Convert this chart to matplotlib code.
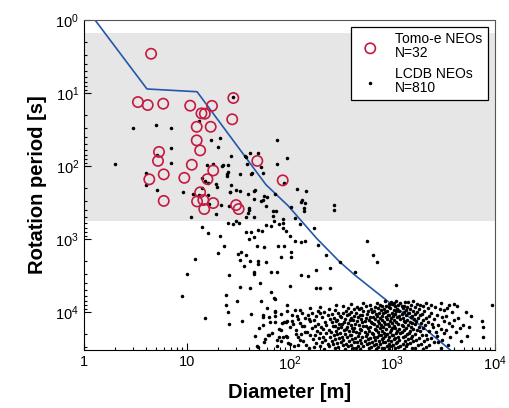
import numpy as np
import matplotlib
matplotlib.use("Agg")
import matplotlib.pyplot as plt
from matplotlib.ticker import FixedLocator, FixedFormatter, LogLocator, NullFormatter

plt.rcParams['font.family'] = ['Liberation Sans', 'DejaVu Sans']
plt.rcParams['mathtext.fontset'] = 'custom'
plt.rcParams['mathtext.rm'] = 'Liberation Sans'
plt.rcParams['mathtext.it'] = 'Liberation Sans:italic'
plt.rcParams['mathtext.bf'] = 'Liberation Sans:bold'

# Tomo-e NEOs: diameter [m], rotation period [s]
tomoe_d = [4.5, 3.35, 4.17, 5.9, 10.8, 17.6, 13.9, 15.0, 28.4, 27.7, 12.5, 17.1,
           12.5, 13.5, 5.37, 5.25, 11.2, 4.32, 5.97, 9.47, 18.1, 15.9, 48.6, 85.9,
           5.97, 13.5, 12.6, 14.8, 18.1, 30.2, 32.0, 14.5]
tomoe_p = [2.9, 13.3, 14.6, 14.0, 14.9, 15.0, 19.0, 19.2, 11.7, 22.9, 29.0, 29.0,
           44.5, 61.0, 64.0, 85.0, 96.0, 152.0, 130.0, 145.0, 115.0, 151.0, 85.0, 157.0,
           300.0, 229.0, 305.0, 388.0, 321.0, 342.0, 388.0, 292.0]

# spin limit curve
limit_d = [1.28, 4.1, 12.6, 59, 97, 184, 308, 431, 979, 2005, 3650, 4000]
limit_p = [1.0, 8.8, 9.6, 180, 350, 980, 2050, 3100, 7770, 16200, 32800, 37000]

# shaded period range [s]
band_p = (1.5, 570)

# LCDB NEOs, small/scattered bodies (log10 D, log10 P)
lcdb_sparse = [
    (0.48, 1.475), (0.70, 1.443), (0.847, 1.475), (0.847, 1.758), (0.707, 1.849),
    (0.305, 1.973), (0.847, 1.963), (0.60, 2.10), (0.60, 2.26), (0.707, 2.33),
    (1.122, 1.384), (1.233, 1.644), (1.324, 1.612), (1.304, 1.74), (1.434, 1.867),
    (1.57, 1.863), (1.616, 1.818), (1.69, 1.826), (1.20, 1.986), (1.258, 1.977),
    (1.35, 1.986), (1.404, 1.982), (1.583, 1.973), (1.453, 1.059), (1.148, 2.169),
    (1.395, 2.105), (1.395, 2.13), (1.518, 2.11), (1.622, 2.114), (1.151, 2.297),
    (1.21, 2.229), (0.96, 2.356), (1.42, 2.352), (1.479, 2.329), (1.518, 2.342),
    (1.664, 2.329), (1.29, 2.283), (1.116, 2.397), (1.21, 2.39),
    (1.875, 1.648), (1.972, 1.89), (1.878, 1.968), (1.574, 1.877), (1.726, 2.018),
    (1.745, 2.096), (1.632, 2.1), (1.40, 2.08), (1.347, 2.0), (1.95, 2.233),
    (1.434, 2.256), (1.178, 2.21), (1.285, 2.24),
    (2.076, 2.319), (2.157, 2.338), (2.125, 2.466), (1.86, 2.384), (1.777, 2.42),
    (1.745, 2.466), (2.115, 2.497), (2.154, 2.511), (2.138, 2.575), (2.138, 2.621),
    (2.43, 2.53), (2.43, 2.599), (2.01, 2.566), (2.056, 2.716),
    (1.42, 2.36), (1.657, 2.338), (1.593, 2.384), (1.754, 2.415), (1.723, 2.475),
    (1.657, 2.452), (1.609, 2.575), (1.609, 2.6), (1.771, 2.544), (1.836, 2.612),
    (1.869, 2.612), (1.842, 2.689), (1.933, 2.726), (1.577, 2.703), (1.414, 2.544),
    (1.333, 2.53), (1.285, 2.658), (1.22, 2.52), (1.058, 2.384), (1.593, 2.648),
    (1.657, 2.694), (1.041, 2.703),
    (1.933, 2.78), (1.933, 2.85), (1.966, 2.886), (1.9, 2.795), (1.852, 2.749),
    (1.82, 2.818), (1.771, 2.804), (1.732, 2.886), (1.69, 2.872), (1.625, 2.904),
    (1.577, 2.904), (1.609, 3.0), (1.657, 2.977), (1.684, 3.09), (1.754, 3.105),
    (1.884, 3.09), (1.95, 3.09), (1.479, 2.749), (1.447, 2.795), (1.398, 2.785),
    (1.511, 2.785), (1.148, 2.84), (1.21, 2.922), (1.324, 2.963), (1.366, 3.096),
    (1.304, 3.187), (1.08, 3.278), (1.002, 3.484), (1.414, 3.488), (1.495, 3.205),
    (1.528, 3.182), (1.577, 3.215), (1.521, 3.288), (1.56, 3.366), (1.616, 3.306),
    (1.69, 3.306), (1.69, 3.34), (1.771, 3.311), (1.657, 3.456), (1.657, 3.475),
    (1.823, 3.447), (1.881, 3.447), (1.713, 3.607), (1.913, 3.25), (1.521, 3.653),
    (1.382, 3.771), (1.489, 3.845), (1.382, 3.9), (1.823, 3.73), (1.855, 3.822),
    (1.723, 3.853), (1.398, 4.0), (1.178, 4.082), (1.414, 4.168), (1.535, 4.119),
    (1.738, 4.045), (1.738, 4.07), (1.855, 4.0), (1.855, 4.133), (1.927, 4.146),
    (1.976, 3.982), (1.976, 4.127), (1.762, 4.37), (1.803, 4.311), (1.894, 4.347),
    (1.917, 4.393), (1.972, 4.338), (1.681, 4.47), (1.69, 4.48), (0.957, 3.785),
    (1.616, 3.675),
    (2.1, 2.795), (2.238, 2.853), (2.0, 2.955), (2.056, 3.032), (2.115, 3.045),
    (2.154, 3.032), (2.277, 3.082), (2.018, 3.182), (2.018, 3.25), (2.358, 3.215),
    (2.495, 3.32), (2.635, 3.456), (2.754, 3.032), (2.816, 3.219), (2.855, 3.32),
    (2.255, 3.42), (2.397, 3.397), (2.115, 3.488), (2.18, 3.507), (2.0, 3.64),
    (2.255, 3.671), (2.3, 3.671), (2.397, 3.671),
    (3.036, 3.626), (3.974, 3.904), (3.887, 4.21), (3.887, 4.347),
    (1.85, 3.81), (2.005, 4.2), (1.81, 4.13), (1.94, 4.34), (2.10, 4.38),
    (2.04, 4.47), (1.88, 4.47), (1.794, 4.315), (1.97, 4.13), (2.10, 3.97),
    (2.216, 4.01), (2.19, 4.09), (2.15, 4.27), (2.07, 4.05), (2.12, 4.19),
    (1.99, 4.42), (2.06, 4.3), (1.63, 4.02), (1.7, 4.22), (1.75, 4.41),
    (1.92, 4.25), (2.02, 4.12), (1.86, 4.06), (1.66, 4.33), (2.08, 4.45),
    (1.78, 3.95), (1.98, 3.9),
]

# LCDB NEOs, dense cluster of large bodies (log10 D, log10 P)
lcdb_cluster = [
    (2.93, 3.845), (2.99, 3.858), (3.04, 3.842), (3.12, 3.861), (3.2, 3.851),
    (2.72, 3.882), (2.85, 3.869), (2.97, 3.886), (3.02, 3.871), (3.08, 3.879), (3.15, 3.866),
    (3.24, 3.884), (3.33, 3.872), (3.47, 3.88),
    (2.45, 3.905), (2.6, 3.893), (2.78, 3.909), (2.88, 3.897), (2.94, 3.911), (3.0, 3.894),
    (3.06, 3.903), (3.11, 3.912), (3.18, 3.896), (3.27, 3.907), (3.38, 3.899), (3.55, 3.904),
    (3.6, 3.892),
    (2.3, 3.931), (2.52, 3.918), (2.66, 3.934), (2.74, 3.921), (2.83, 3.929), (2.9, 3.915),
    (2.97, 3.936), (3.03, 3.923), (3.09, 3.919), (3.14, 3.933), (3.22, 3.926), (3.3, 3.914),
    (3.42, 3.93), (3.63, 3.922),
    (2.2, 3.944), (2.38, 3.957), (2.57, 3.941), (2.63, 3.962), (2.7, 3.948), (2.79, 3.955),
    (2.86, 3.939), (2.92, 3.958), (2.98, 3.946), (3.05, 3.961), (3.1, 3.943), (3.17, 3.953),
    (3.26, 3.96), (3.35, 3.942), (3.46, 3.956), (3.53, 3.947),
    (1.86, 3.98), (2.05, 3.968), (2.28, 3.985), (2.44, 3.97), (2.55, 3.983), (2.68, 3.964),
    (2.76, 3.979), (2.82, 3.987), (2.89, 3.966), (2.95, 3.981), (3.02, 3.972), (3.07, 3.986),
    (3.13, 3.969), (3.2, 3.978), (3.31, 3.984), (3.5, 3.967),
    (2.12, 4.006), (2.34, 3.993), (2.47, 4.01), (2.6, 3.996), (2.65, 4.011), (2.72, 3.991),
    (2.8, 4.004), (2.87, 4.012), (2.93, 3.994), (3.0, 4.008), (3.04, 3.99), (3.11, 4.003),
    (3.16, 4.013), (3.24, 3.997), (3.38, 4.007), (3.58, 3.995), (3.72, 4.005),
    (1.92, 4.02), (2.18, 4.033), (2.3, 4.017), (2.41, 4.031), (2.52, 4.015), (2.58, 4.029),
    (2.69, 4.036), (2.75, 4.019), (2.84, 4.027), (2.91, 4.014), (2.97, 4.035), (3.03, 4.022),
    (3.09, 4.032), (3.15, 4.016), (3.22, 4.028), (3.29, 4.021), (3.44, 4.034),
    (2.02, 4.046), (2.26, 4.057), (2.37, 4.041), (2.49, 4.059), (2.56, 4.044), (2.63, 4.055),
    (2.71, 4.039), (2.78, 4.061), (2.85, 4.048), (2.9, 4.058), (2.96, 4.042), (3.01, 4.053),
    (3.07, 4.06), (3.13, 4.045), (3.19, 4.056), (3.27, 4.04), (3.36, 4.052), (3.52, 4.047),
    (3.77, 4.054),
    (1.8, 4.07), (2.15, 4.084), (2.32, 4.066), (2.43, 4.08), (2.5, 4.071), (2.6, 4.086),
    (2.67, 4.064), (2.74, 4.079), (2.81, 4.069), (2.88, 4.085), (2.94, 4.067), (2.99, 4.082),
    (3.05, 4.073), (3.1, 4.087), (3.18, 4.065), (3.25, 4.078), (3.33, 4.083), (3.48, 4.068),
    (3.64, 4.081),
    (2.08, 4.094), (2.24, 4.108), (2.39, 4.091), (2.46, 4.105), (2.54, 4.097), (2.62, 4.111),
    (2.7, 4.093), (2.77, 4.104), (2.83, 4.089), (2.9, 4.109), (2.95, 4.096), (3.02, 4.106),
    (3.08, 4.092), (3.14, 4.11), (3.21, 4.098), (3.3, 4.103), (3.41, 4.09), (3.6, 4.107),
    (1.95, 4.13), (2.2, 4.117), (2.35, 4.133), (2.45, 4.12), (2.53, 4.136), (2.59, 4.114),
    (2.66, 4.128), (2.73, 4.119), (2.79, 4.135), (2.86, 4.116), (2.92, 4.131), (2.98, 4.122),
    (3.04, 4.137), (3.11, 4.118), (3.17, 4.129), (3.23, 4.115), (3.35, 4.132), (3.5, 4.121),
    (3.87, 4.126),
    (2.1, 4.144), (2.28, 4.158), (2.41, 4.141), (2.48, 4.156), (2.57, 4.146), (2.64, 4.161),
    (2.71, 4.139), (2.8, 4.154), (2.87, 4.143), (2.93, 4.16), (3.0, 4.147), (3.06, 4.157),
    (3.12, 4.14), (3.19, 4.153), (3.28, 4.145), (3.39, 4.159), (3.55, 4.148),
    (1.74, 4.18), (2.03, 4.168), (2.25, 4.184), (2.36, 4.17), (2.44, 4.186), (2.51, 4.166),
    (2.6, 4.179), (2.68, 4.171), (2.74, 4.187), (2.82, 4.165), (2.89, 4.182), (2.96, 4.169),
    (3.02, 4.185), (3.09, 4.172), (3.15, 4.181), (3.22, 4.164), (3.32, 4.178), (3.45, 4.183),
    (3.69, 4.17),
    (2.14, 4.195), (2.31, 4.208), (2.42, 4.191), (2.5, 4.206), (2.56, 4.197), (2.63, 4.211),
    (2.72, 4.19), (2.78, 4.204), (2.85, 4.193), (2.91, 4.209), (2.97, 4.196), (3.03, 4.212),
    (3.1, 4.189), (3.18, 4.203), (3.26, 4.198), (3.4, 4.207), (3.58, 4.194), (3.75, 4.202),
    (1.9, 4.23), (2.22, 4.217), (2.33, 4.233), (2.47, 4.219), (2.55, 4.236), (2.61, 4.215),
    (2.69, 4.228), (2.76, 4.221), (2.83, 4.234), (2.88, 4.214), (2.94, 4.229), (3.0, 4.218),
    (3.07, 4.235), (3.13, 4.222), (3.2, 4.231), (3.3, 4.216), (3.47, 4.227), (3.66, 4.22),
    (2.06, 4.244), (2.27, 4.259), (2.38, 4.241), (2.45, 4.255), (2.53, 4.247), (2.62, 4.261),
    (2.7, 4.24), (2.77, 4.253), (2.84, 4.243), (2.9, 4.258), (2.99, 4.245), (3.05, 4.26),
    (3.11, 4.239), (3.17, 4.252), (3.24, 4.248), (3.36, 4.256), (3.52, 4.242),
    (1.83, 4.28), (2.17, 4.268), (2.3, 4.284), (2.4, 4.27), (2.49, 4.286), (2.58, 4.265),
    (2.65, 4.279), (2.73, 4.271), (2.8, 4.285), (2.86, 4.266), (2.92, 4.281), (2.98, 4.269),
    (3.04, 4.287), (3.09, 4.273), (3.16, 4.282), (3.27, 4.264), (3.43, 4.278), (3.62, 4.272),
    (2.11, 4.294), (2.25, 4.309), (2.36, 4.291), (2.46, 4.306), (2.54, 4.297), (2.6, 4.311),
    (2.68, 4.29), (2.75, 4.303), (2.81, 4.293), (2.89, 4.308), (2.95, 4.296), (3.01, 4.31),
    (3.08, 4.289), (3.14, 4.302), (3.22, 4.298), (3.33, 4.307), (3.5, 4.292),
    (1.97, 4.33), (2.2, 4.318), (2.33, 4.334), (2.43, 4.32), (2.51, 4.336), (2.59, 4.315),
    (2.67, 4.329), (2.74, 4.321), (2.82, 4.335), (2.87, 4.316), (2.93, 4.331), (3.0, 4.319),
    (3.06, 4.337), (3.12, 4.323), (3.19, 4.332), (3.29, 4.314), (3.44, 4.328), (3.73, 4.322),
    (2.08, 4.344), (2.29, 4.358), (2.39, 4.341), (2.48, 4.356), (2.56, 4.347), (2.64, 4.361),
    (2.71, 4.34), (2.78, 4.353), (2.85, 4.343), (2.91, 4.359), (2.97, 4.346), (3.03, 4.36),
    (3.1, 4.339), (3.18, 4.352), (3.26, 4.348), (3.38, 4.357), (3.56, 4.342),
    (1.88, 4.38), (2.23, 4.368), (2.35, 4.384), (2.44, 4.37), (2.52, 4.386), (2.61, 4.365),
    (2.69, 4.379), (2.76, 4.371), (2.83, 4.385), (2.9, 4.366), (2.96, 4.381), (3.02, 4.369),
    (3.07, 4.387), (3.15, 4.373), (3.23, 4.382), (3.34, 4.364), (3.48, 4.378),
    (2.13, 4.394), (2.32, 4.409), (2.41, 4.391), (2.5, 4.406), (2.58, 4.397), (2.66, 4.411),
    (2.73, 4.39), (2.8, 4.403), (2.87, 4.393), (2.93, 4.408), (2.99, 4.396), (3.05, 4.41),
    (3.12, 4.389), (3.2, 4.402), (3.31, 4.398), (3.45, 4.407), (3.67, 4.392),
    (2.0, 4.43), (2.26, 4.418), (2.37, 4.434), (2.46, 4.42), (2.55, 4.436), (2.63, 4.415),
    (2.7, 4.429), (2.77, 4.421), (2.84, 4.435), (2.91, 4.416), (2.97, 4.431), (3.04, 4.419),
    (3.1, 4.437), (3.17, 4.423), (3.28, 4.432), (3.41, 4.414),
    (2.16, 4.444), (2.3, 4.459), (2.42, 4.441), (2.52, 4.456), (2.6, 4.447), (2.67, 4.461),
    (2.75, 4.44), (2.82, 4.453), (2.88, 4.443), (2.95, 4.458), (3.01, 4.446), (3.08, 4.46),
    (3.14, 4.439), (3.25, 4.452), (3.36, 4.448), (3.54, 4.457),
    (2.24, 4.48), (2.38, 4.468), (2.47, 4.484), (2.57, 4.47), (2.65, 4.486), (2.72, 4.465),
    (2.79, 4.479), (2.86, 4.471), (2.92, 4.485), (2.98, 4.466), (3.06, 4.481), (3.13, 4.469),
    (3.22, 4.487), (3.33, 4.473),
    (2.19, 4.494), (2.34, 4.509), (2.44, 4.491), (2.54, 4.506), (2.62, 4.497), (2.69, 4.511),
    (2.77, 4.49), (2.84, 4.503), (2.9, 4.493), (2.97, 4.508), (3.03, 4.496), (3.11, 4.51),
    (3.19, 4.489), (3.3, 4.502), (3.47, 4.498),
]

lcdb_all = lcdb_sparse + lcdb_cluster
lcdb_d = 10 ** np.array([p[0] for p in lcdb_all])
lcdb_p = 10 ** np.array([p[1] for p in lcdb_all])

fig = plt.figure(figsize=(5.1, 4.08), dpi=100)
ax = fig.add_axes([0.1647, 0.1422, 0.8059, 0.8088])

ax.axhspan(band_p[0], band_p[1], color='#e6e6e6', lw=0, zorder=0)
ax.plot(limit_d, limit_p, color='#2457a8', lw=1.2, zorder=2)
ax.scatter(lcdb_d, lcdb_p, s=6.5, color='black', lw=0, zorder=3, label='LCDB NEOs\nN=810')
ax.scatter(tomoe_d, tomoe_p, s=55, facecolors='none', edgecolors='#c41a40', lw=1.2,
           zorder=4, label='Tomo-e NEOs\nN=32')

ax.set_xscale('log')
ax.set_yscale('log')
ax.set_xlim(1, 1e4)
ax.set_ylim(3.3e4, 1)

ax.xaxis.set_major_locator(FixedLocator([1, 10, 100, 1000, 10000]))
ax.xaxis.set_major_formatter(FixedFormatter(['1', '10', r'$10^2$', r'$10^3$', r'$10^4$']))
ax.yaxis.set_major_locator(FixedLocator([1, 10, 100, 1000, 10000]))
ax.yaxis.set_major_formatter(FixedFormatter([r'$10^0$', r'$10^1$', r'$10^2$', r'$10^3$', r'$10^4$']))
for a in (ax.xaxis, ax.yaxis):
    a.set_minor_locator(LogLocator(base=10, subs=np.arange(2, 10), numticks=20))
    a.set_minor_formatter(NullFormatter())
ax.tick_params(which='both', direction='in', top=False, right=False, labelsize=10.5, width=0.8)
ax.tick_params(which='major', length=5)
ax.tick_params(which='minor', length=2.5)

for s in ('top', 'right'):
    ax.spines[s].set_color('#555555')

ax.set_xlabel('Diameter [m]', fontsize=14.5, fontweight='bold', labelpad=7)
ax.set_ylabel('Rotation period [s]', fontsize=14.5, fontweight='bold', labelpad=6)

h, l = ax.get_legend_handles_labels()
leg = ax.legend(h[::-1], l[::-1], loc='upper right', fontsize=10, frameon=True,
                fancybox=False, edgecolor='black', framealpha=1, labelspacing=0.45,
                handletextpad=0.8, borderpad=0.4)
leg.get_frame().set_linewidth(0.9)
for t in leg.get_texts():
    t.set_linespacing(1.0)

fig.savefig('out.png', dpi=100)
